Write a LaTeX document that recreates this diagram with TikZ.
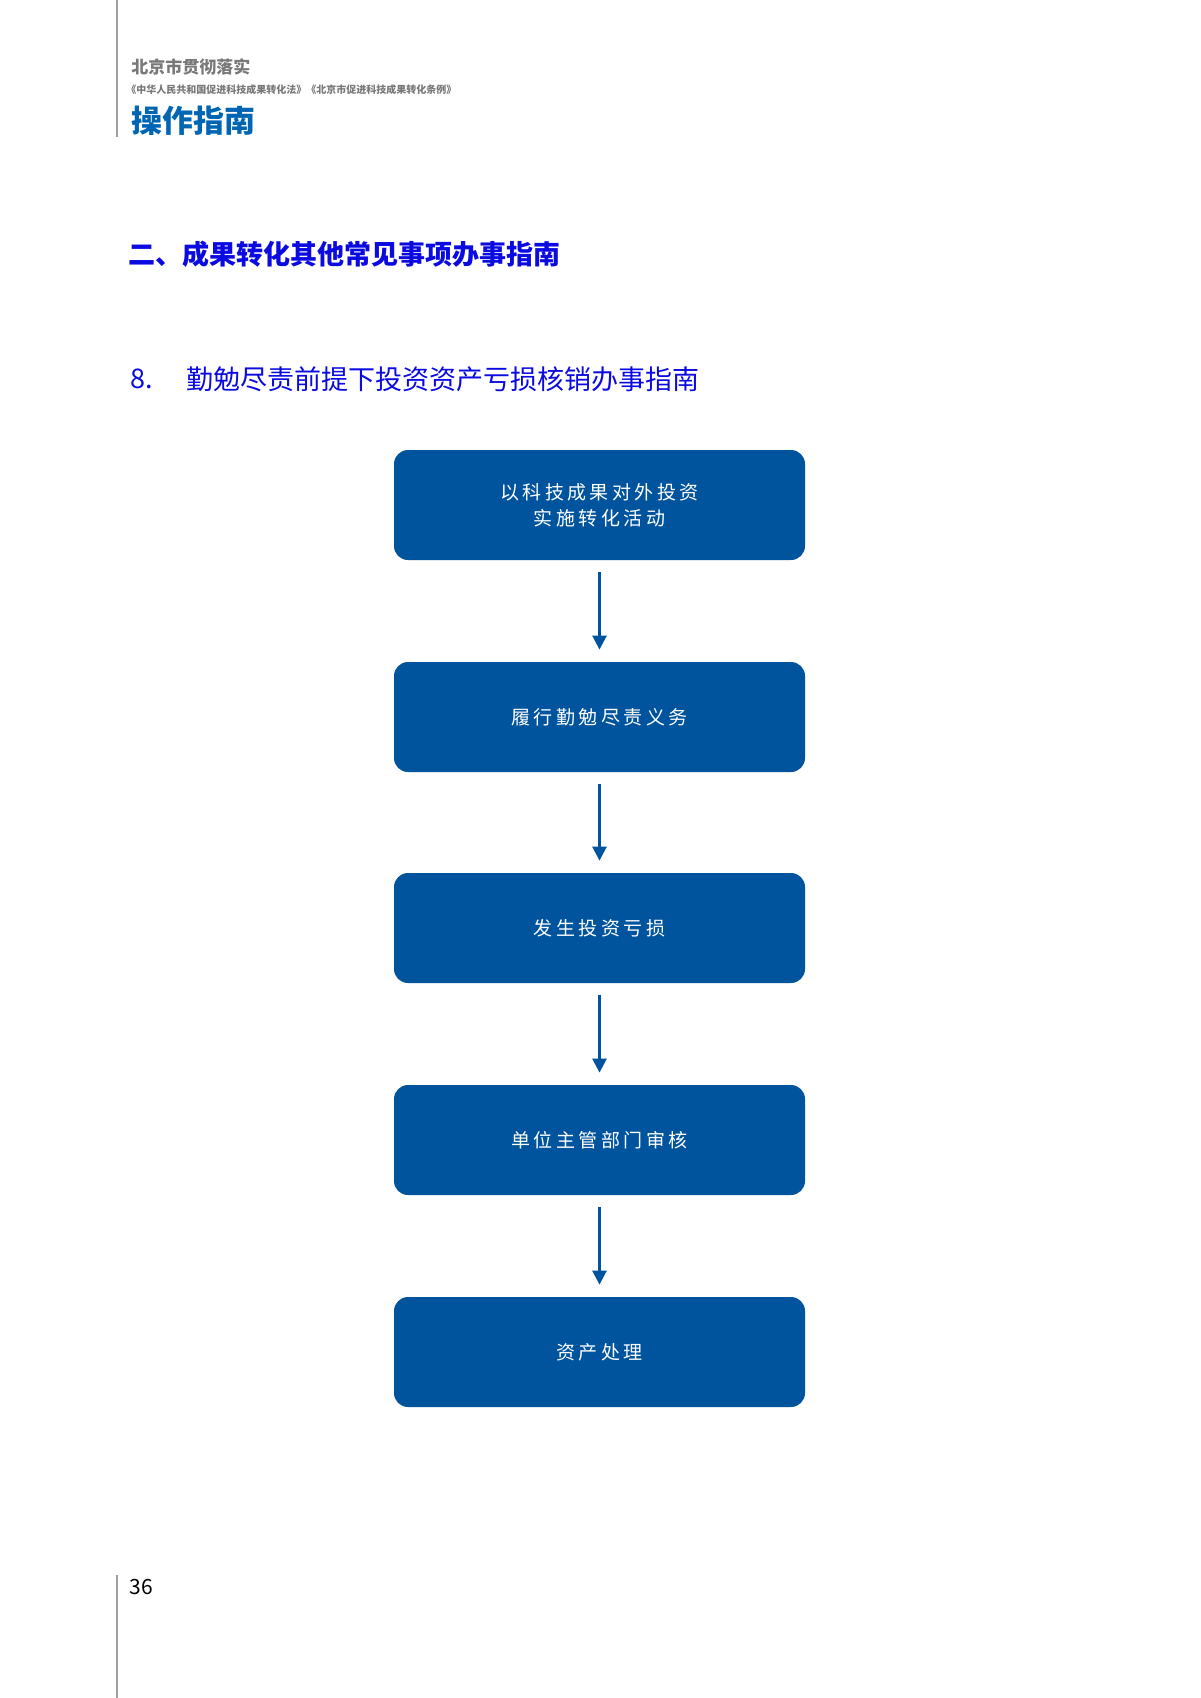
\documentclass[tikz,border=0pt]{standalone}
\usepackage{fontspec}
\setmainfont{Noto Sans CJK SC}
\newfontfamily\cjk{Noto Sans CJK SC}
\newfontfamily\boxfont[LetterSpace=18]{Noto Sans CJK SC}
\usetikzlibrary{arrows.meta}
\definecolor{boxblue}{RGB}{0,84,157}
\definecolor{hdrblue}{RGB}{0,102,179}
\definecolor{secblue}{RGB}{10,10,225}
\definecolor{hdrgray}{RGB}{120,120,120}
\tikzset{
  stepbox/.style={fill=boxblue, rounded corners=7pt, minimum width=205.5pt, minimum height=55pt, text=white, font=\boxfont\fontsize{9.5}{13}\selectfont, align=center, inner sep=0pt},
  flow/.style={draw=boxblue, line width=1.3pt, -{Triangle[length=7pt,width=7pt]}},
  rule/.style={draw=hdrgray!70, line width=0.8pt}
}
\begin{document}
\begin{tikzpicture}[x=0.5pt,y=-0.5pt]
\useasboundingbox (0,0) rectangle (1200,1698);
\fill[white] (0,0) rectangle (1200,1698);
\draw[rule] (117,0) -- (117,137);
\draw[rule] (117,1575) -- (117,1698);
\node[anchor=west, text=hdrgray, font=\bfseries\fontsize{8.5}{10}\selectfont, inner sep=0] (h1) at (131,67) {北京市贯彻落实};
\node[anchor=west, text=hdrgray, font=\bfseries\fontsize{5}{6}\selectfont, inner sep=0] (h2) at (126,90) {《中华人民共和国促进科技成果转化法》《北京市促进科技成果转化条例》};
\node[anchor=west, text=hdrblue, font=\bfseries\fontsize{15.5}{18}\selectfont, inner sep=0] (h3) at (131,121) {操作指南};
\node[anchor=west, text=secblue, font=\bfseries\fontsize{13.5}{16}\selectfont, inner sep=0] (sec) at (128,254) {二、成果转化其他常见事项办事指南};
\node[anchor=west, text=secblue, font=\fontsize{13.5}{16}\selectfont, inner sep=0] (num) at (130,379) {8.};
\node[anchor=west, text=secblue, font=\fontsize{13.5}{16}\selectfont, inner sep=0] (sub) at (186,379) {勤勉尽责前提下投资资产亏损核销办事指南};
\node[anchor=west, font=\rmfamily\fontsize{10.5}{12}\selectfont, inner sep=0] (pg) at (129,1587) {36};
\node[stepbox] (b1) at (599.5,505) {以科技成果对外投资\\实施转化活动};
\node[stepbox] (b2) at (599.5,717) {履行勤勉尽责义务};
\node[stepbox] (b3) at (599.5,928) {发生投资亏损};
\node[stepbox] (b4) at (599.5,1140) {单位主管部门审核};
\node[stepbox] (b5) at (599.5,1352) {资产处理};
\draw[flow] ([yshift=-6pt]b1.south) -- ([yshift=6pt]b2.north);
\draw[flow] ([yshift=-6pt]b2.south) -- ([yshift=6pt]b3.north);
\draw[flow] ([yshift=-6pt]b3.south) -- ([yshift=6pt]b4.north);
\draw[flow] ([yshift=-6pt]b4.south) -- ([yshift=6pt]b5.north);
\end{tikzpicture}
\end{document}
